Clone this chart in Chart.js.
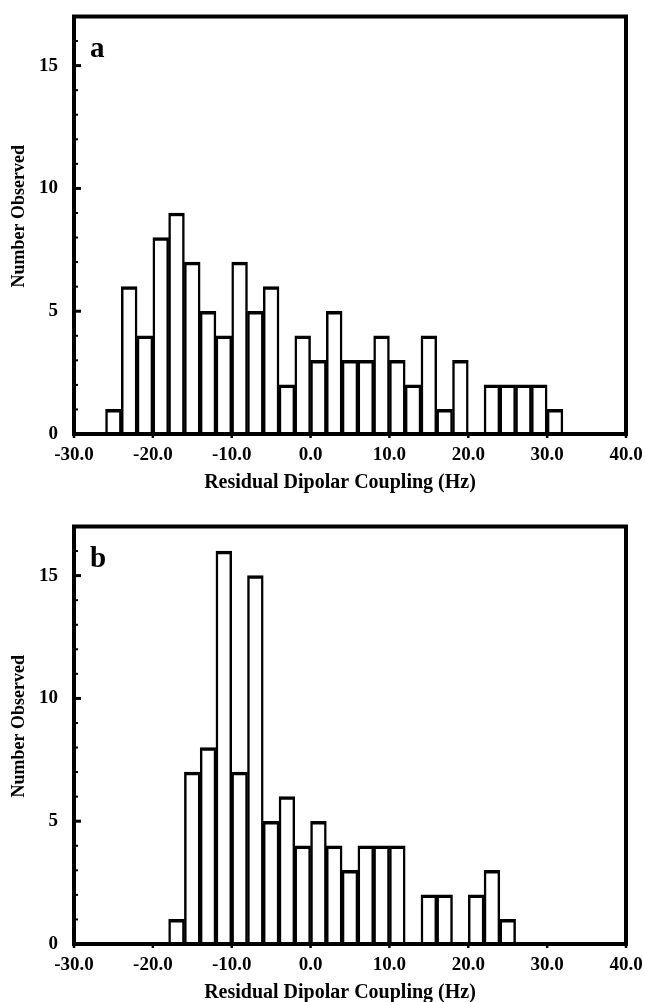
<!DOCTYPE html>
<html>
<head>
<meta charset="utf-8">
<title>Residual dipolar coupling histograms</title>
<script src="https://cdn.jsdelivr.net/npm/chart.js@4.4.1/dist/chart.umd.min.js"></script>
<style>
  html, body { margin: 0; padding: 0; background: #fff; overflow: hidden; }
  .panel { position: absolute; left: 0; width: 645px; height: 510px; }
  #panelA { top: 0; }
  #panelB { top: 510px; }
</style>
</head>
<body>
<div class="panel" id="panelA"><canvas id="chartA" width="645" height="510"></canvas></div>
<div class="panel" id="panelB"><canvas id="chartB" width="645" height="510"></canvas></div>
<script>
// bin centres in Hz (bins are 2 Hz wide)
const binsA = [-25, -23, -21, -19, -17, -15, -13, -11, -9, -7, -5, -3, -1, 1, 3, 5, 7, 9, 11, 13, 15, 17, 19, 21, 23, 25, 27, 29, 31];
const countsA = [1, 6, 4, 8, 9, 7, 5, 4, 7, 5, 6, 2, 4, 3, 5, 3, 3, 4, 3, 2, 4, 1, 3, 0, 2, 2, 2, 2, 1];

const binsB = [-17, -15, -13, -11, -9, -7, -5, -3, -1, 1, 3, 5, 7, 9, 11, 13, 15, 17, 19, 21, 23, 25];
const countsB = [1, 7, 8, 16, 7, 15, 5, 6, 4, 5, 4, 3, 4, 4, 4, 0, 2, 2, 0, 2, 3, 1];

const xTicks = [-30, -20, -10, 0, 10, 20, 30, 40];
const yTicks = [0, 5, 10, 15];
const xRange = [-30, 40];
const yRange = [0, 17];
const xTitle = 'Residual Dipolar Coupling (Hz)';
const yTitle = 'Number Observed';

const serif = '"Liberation Serif", "Times New Roman", serif';

// box frame, inward ticks, axis titles and panel letter
const framePlugin = {
    id: 'frame',
    afterDatasetsDraw(chart, args, opts) {
        const ctx = chart.ctx;
        const a = chart.chartArea;
        const x = chart.scales.x;
        const y = chart.scales.y;
        ctx.save();
        ctx.strokeStyle = '#000';
        ctx.fillStyle = '#000';

        for (let v = yRange[0] + 1; v < yRange[1]; v++) {
            const py = y.getPixelForValue(v);
            const major = v % 5 === 0;
            ctx.lineWidth = major ? 3 : 2;
            ctx.beginPath();
            ctx.moveTo(a.left - (major ? 0 : 2), py);
            ctx.lineTo(a.left + (major ? 7 : 4), py);
            ctx.stroke();
        }
        ctx.lineWidth = 2.5;
        xTicks.forEach(v => {
            const px = x.getPixelForValue(v);
            ctx.beginPath();
            ctx.moveTo(px, a.bottom);
            ctx.lineTo(px, a.bottom + 4);
            ctx.stroke();
        });

        ctx.lineWidth = 4;
        ctx.strokeRect(a.left, a.top, a.right - a.left, a.bottom - a.top);

        ctx.textAlign = 'center';
        ctx.textBaseline = 'middle';
        ctx.font = 'bold 20px ' + serif;
        ctx.fillText(xTitle, (a.left + a.right) / 2 - 10, a.bottom + 49);

        ctx.save();
        ctx.translate(19, (a.top + a.bottom) / 2 - 9);
        ctx.rotate(-Math.PI / 2);
        ctx.font = 'bold 18px ' + serif;
        ctx.fillText(yTitle, 0, 0);
        ctx.restore();

        ctx.textAlign = 'left';
        ctx.textBaseline = 'alphabetic';
        ctx.font = 'bold 29px ' + serif;
        ctx.fillText(opts.letter, a.left + 16, a.top + 40);
        ctx.restore();
    }
};

// keep the chart area exactly where the padding puts it
function noScalePadding(s) {
    s.paddingTop = 0;
    s.paddingBottom = 0;
    s.paddingLeft = 0;
    s.paddingRight = 0;
}

function histogram(id, letter, bins, counts) {
    const tickFont = {family: serif, size: 19, weight: 'bold'};
    return new Chart(document.getElementById(id), {
        type: 'bar',
        data: {
            datasets: [{
                data: bins.map((b, i) => ({x: b, y: counts[i]})),
                backgroundColor: '#fff',
                borderColor: '#000',
                borderWidth: {top: 3.5, left: 2.5, right: 2.5, bottom: 0},
                borderSkipped: false,
                barPercentage: 1,
                categoryPercentage: 1
            }]
        },
        options: {
            responsive: false,
            animation: false,
            events: [],
            layout: {padding: {top: 16.5, right: 19, left: 0, bottom: 0}},
            plugins: {
                legend: {display: false},
                tooltip: {enabled: false},
                frame: {letter: letter}
            },
            scales: {
                x: {
                    type: 'linear',
                    min: xRange[0],
                    max: xRange[1],
                    offset: false,
                    grid: {display: false, drawTicks: false, offset: false},
                    border: {display: false},
                    afterBuildTicks: s => { s.ticks = xTicks.map(v => ({value: v})); },
                    afterFit: s => { s.height = 76; noScalePadding(s); },
                    ticks: {
                        padding: 10,
                        color: '#000',
                        maxRotation: 0,
                        autoSkip: false,
                        font: tickFont,
                        callback: v => v.toFixed(1)
                    }
                },
                y: {
                    min: yRange[0],
                    max: yRange[1],
                    grid: {display: false, drawTicks: false},
                    border: {display: false},
                    afterBuildTicks: s => { s.ticks = yTicks.map(v => ({value: v})); },
                    afterFit: s => { s.width = 74; noScalePadding(s); },
                    ticks: {padding: 16, color: '#000', font: tickFont}
                }
            }
        },
        plugins: [framePlugin]
    });
}

histogram('chartA', 'a', binsA, countsA);
histogram('chartB', 'b', binsB, countsB);
</script>
</body>
</html>
